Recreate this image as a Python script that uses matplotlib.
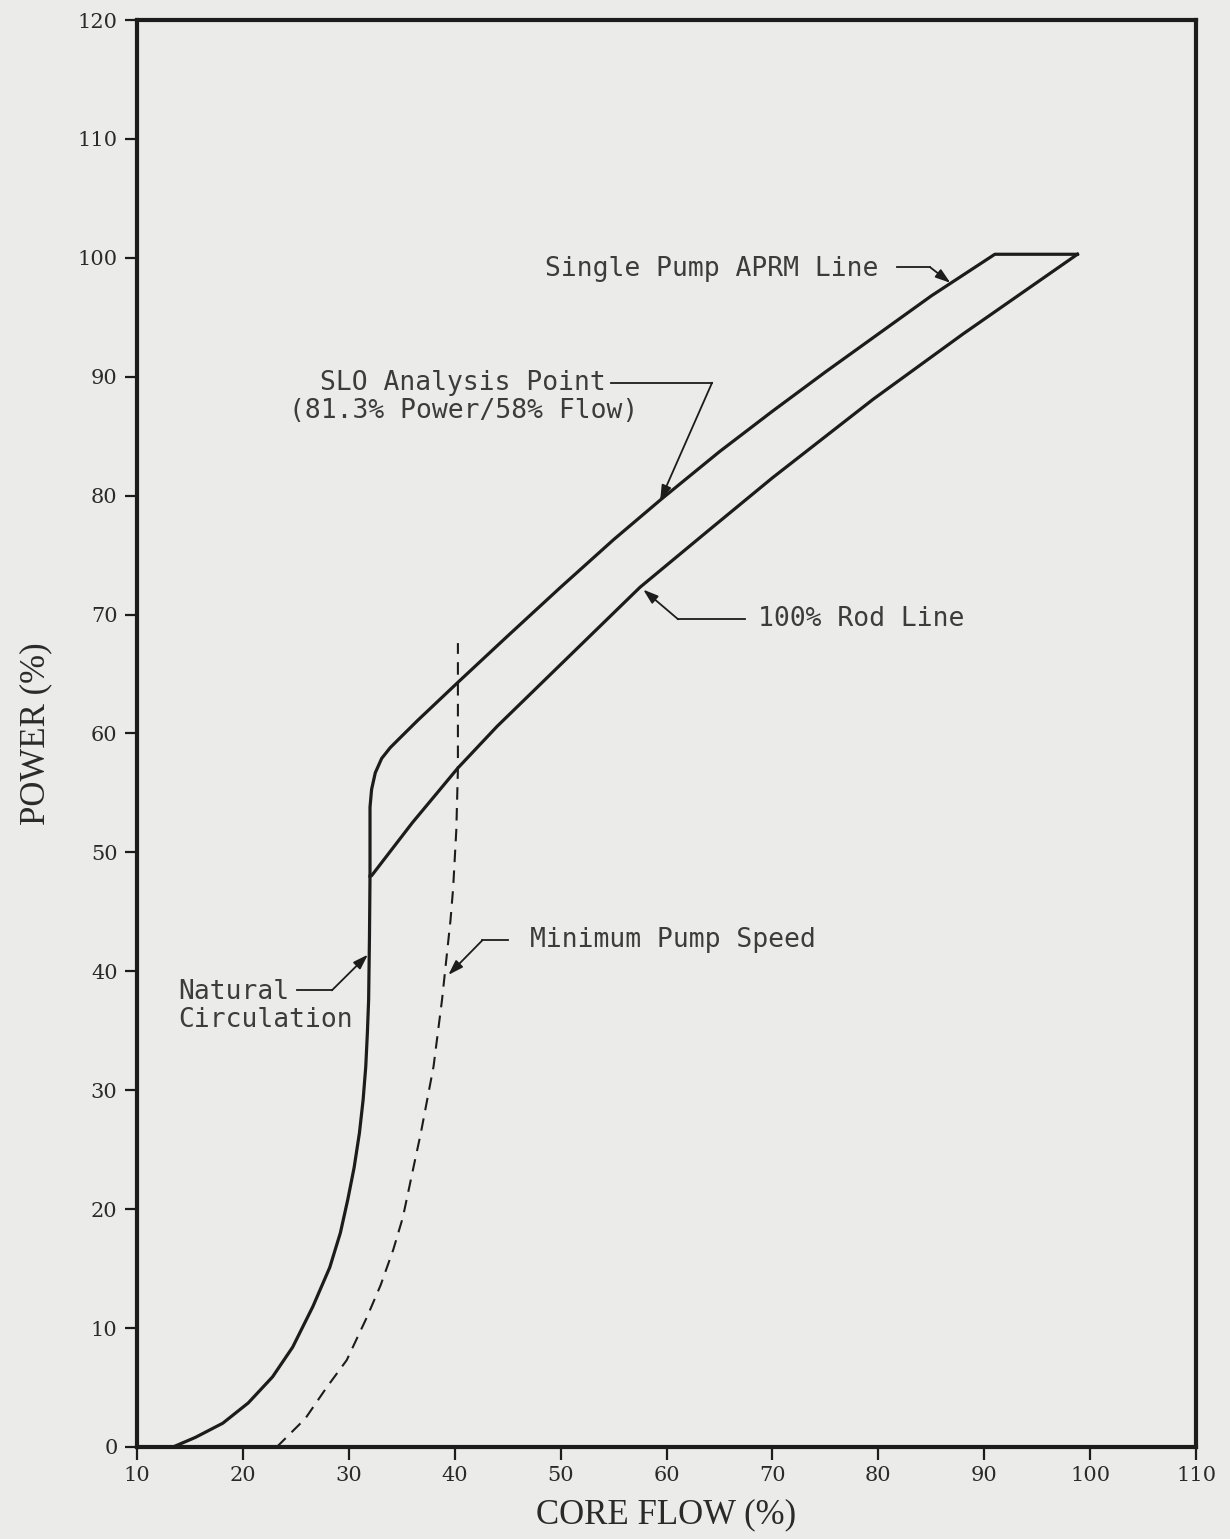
import matplotlib
matplotlib.use("Agg")
import matplotlib.pyplot as plt

# --- curves (core flow %, power %) ---
natural_x = [13.4, 15.5, 18.1, 20.5, 22.8, 24.7, 26.6, 28.2, 29.2, 29.9, 30.5, 31.0, 31.35,
             31.6, 31.75, 31.87, 31.95, 32.0]
natural_y = [0.0, 0.8, 2.0, 3.7, 5.9, 8.4, 11.8, 15.1, 18.0, 20.8, 23.5, 26.4, 29.2,
             32.0, 34.8, 37.6, 43.0, 48.0]

aprm_x = [32.0, 32.0, 32.15, 32.5, 33.1, 33.9, 34.8, 36.5, 40.3, 45.0, 50.0, 55.0, 59.5,
          65.0, 70.0, 75.0, 80.0, 85.0, 91.0, 98.8]
aprm_y = [48.0, 53.8, 55.3, 56.7, 57.9, 58.8, 59.6, 61.1, 64.3, 68.2, 72.3, 76.3, 79.7,
          83.7, 87.1, 90.4, 93.6, 96.8, 100.3, 100.3]

rod_x = [32.2, 36.0, 40.3, 44.0, 50.0, 57.5, 64.0, 70.0, 79.5, 88.0, 98.8]
rod_y = [48.1, 52.5, 57.1, 60.6, 65.8, 72.3, 77.1, 81.5, 88.1, 93.6, 100.3]

pump_x = [23.2, 25.9, 27.9, 29.8, 31.7, 33.0, 34.2, 35.1, 36.1, 36.8, 37.4, 38.0, 38.4,
          38.8, 39.6, 39.85, 40.15, 40.3, 40.3]
pump_y = [0.0, 2.4, 5.0, 7.3, 10.9, 13.6, 16.6, 19.3, 23.5, 26.4, 29.2, 32.0, 34.8,
          37.6, 44.3, 47.0, 51.9, 57.0, 67.6]

xticks = [10, 20, 30, 40, 50, 60, 70, 80, 90, 100, 110]
yticks = [0, 10, 20, 30, 40, 50, 60, 70, 80, 90, 100, 110, 120]

# labels: text, text position, leader start, leader kink, arrow tip
labels = [
    ("Single Pump APRM Line", (48.5, 99.1), (81.8, 99.2), (84.9, 99.2), (86.8, 97.9)),
    ("100% Rod Line", (68.6, 69.6), (67.4, 69.6), (61.1, 69.6), (57.8, 72.1)),
    ("Minimum Pump Speed", (47.1, 42.6), (45.0, 42.6), (42.6, 42.6), (39.4, 39.7)),
]

bg = "#ebebe9"
ink = "#1c1c1c"
txt = "#3c3c3c"

fig = plt.figure(figsize=(12.3, 15.39), dpi=100, facecolor=bg)
ax = fig.add_axes([0.1114, 0.0598, 0.861, 0.9272], facecolor=bg)

ax.plot(natural_x, natural_y, color=ink, lw=2.3, solid_joinstyle="round")
ax.plot(aprm_x, aprm_y, color=ink, lw=2.3, solid_joinstyle="round")
ax.plot(rod_x, rod_y, color=ink, lw=2.3, solid_joinstyle="round")
ax.plot(pump_x, pump_y, color=ink, lw=1.5, dashes=(6, 4))

mono = "DejaVu Sans Mono"
arrow = dict(arrowstyle="-|>,head_length=0.9,head_width=0.3", lw=1.3, color=ink,
             shrinkA=0, shrinkB=0)

for text, tpos, start, kink, tip in labels:
    ax.text(tpos[0], tpos[1], text, family=mono, fontsize=19, color=txt,
            ha="left", va="center")
    ax.plot([start[0], kink[0]], [start[1], kink[1]], color=ink, lw=1.3)
    ax.annotate("", xy=tip, xytext=kink, arrowprops=arrow)

# SLO analysis point
ax.text(40.8, 88.3, "SLO Analysis Point\n(81.3% Power/58% Flow)", family=mono,
        fontsize=19, color=txt, ha="center", va="center", linespacing=1.1)
ax.plot([54.8, 64.3], [89.5, 89.5], color=ink, lw=1.3)
ax.annotate("", xy=(59.4, 79.6), xytext=(64.3, 89.5), arrowprops=arrow)

# natural circulation
ax.text(13.9, 37.1, "Natural\nCirculation", family=mono, fontsize=19, color=txt,
        ha="left", va="center", linespacing=1.1)
ax.plot([25.1, 28.4], [38.4, 38.4], color=ink, lw=1.3)
ax.annotate("", xy=(31.8, 41.4), xytext=(28.4, 38.4), arrowprops=arrow)

ax.set_xlim(10, 110)
ax.set_ylim(0, 120)
ax.set_xticks(xticks)
ax.set_yticks(yticks)
ax.tick_params(direction="out", length=9, width=1.6, color=ink, pad=5,
               labelsize=15, labelcolor="#2a2a2a")
for lab in ax.get_xticklabels() + ax.get_yticklabels():
    lab.set_family("DejaVu Serif")
for s in ax.spines.values():
    s.set_linewidth(3)
    s.set_color(ink)

ax.set_xlabel("CORE FLOW (%)", family="Liberation Serif", fontsize=25, color="#2a2a2a")
ax.set_ylabel("POWER (%)", family="Liberation Serif", fontsize=25, color="#2a2a2a")
ax.xaxis.set_label_coords(0.5, -0.036)
ax.yaxis.set_label_coords(-0.080, 0.5)

fig.savefig("out.png", dpi=100, facecolor=bg)
